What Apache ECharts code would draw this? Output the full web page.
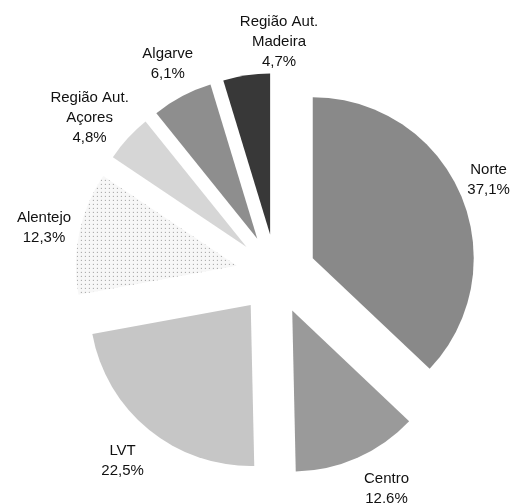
<!DOCTYPE html>
<html>
<head>
<meta charset="utf-8">
<script src="https://cdn.jsdelivr.net/npm/echarts@6/dist/echarts.min.js"></script>
<style>
  html, body { margin: 0; padding: 0; background: #fff; }
  #chart { width: 519px; height: 503px; }
</style>
</head>
<body>
<div id="chart"></div>
<script>
// regiões e percentagens (no sentido dos ponteiros, a partir do topo)
const regions = ['Norte', 'Centro', 'LVT', 'Alentejo', 'Região Aut.\nAçores', 'Algarve', 'Região Aut.\nMadeira']
const shares = [37.1, 12.6, 22.5, 12.3, 4.8, 6.1, 4.7]
const sliceColors = ['#898989', '#9a9a9a', '#c6c6c6', '#f7f7f7', '#d6d6d6', '#8e8e8e', '#383838']

const chart = echarts.init(document.getElementById('chart'), null, { renderer: 'canvas' })

const fmt = v => v.toFixed(1).replace('.', ',') + '%'

const sliceData = regions.map((name, i) => {
  const item = {
    name: name,
    value: shares[i],
    selected: true,
    itemStyle: { color: sliceColors[i] }
  }
  // Alentejo: pontilhado esparso
  if (name === 'Alentejo') {
    item.itemStyle.decal = {
      symbol: 'rect',
      symbolSize: 1,
      dashArrayX: [1, 3],
      dashArrayY: [1, 3],
      color: '#9a9a9a'
    }
  }
  return item
})

// pequenos acertos de posição dos rótulos
const labelOffsets = {
  'Norte': [-5, -2],
  'Centro': [15, -5],
  'LVT': [-2, 0],
  'Alentejo': [2, 0],
  'Região Aut.\nAçores': [-10, 3],
  'Algarve': [4, -2],
  'Região Aut.\nMadeira': [39, 1]
}

const labelData = regions.map((name, i) => {
  const item = { name: name, value: shares[i] }
  if (labelOffsets[name]) {
    item.label = { offset: labelOffsets[name] }
  }
  return item
})

chart.setOption({
  backgroundColor: '#ffffff',
  aria: { enabled: false },
  series: [
    {
      type: 'pie',
      center: [276, 274],
      radius: [0, 161],
      startAngle: 90,
      clockwise: true,
      selectedMode: 'multiple',
      selectedOffset: 40,
      animation: false,
      silent: true,
      label: { show: false },
      labelLine: { show: false },
      data: sliceData
    },
    {
      // série auxiliar só para colocar os rótulos
      type: 'pie',
      center: [275, 276],
      radius: [200, 270],
      startAngle: 90,
      clockwise: true,
      animation: false,
      silent: true,
      itemStyle: { color: 'rgba(0,0,0,0)' },
      labelLine: { show: false },
      label: {
        show: true,
        position: 'inside',
        color: '#111',
        fontFamily: 'Liberation Sans, Arial, sans-serif',
        fontSize: 15,
        lineHeight: 20,
        align: 'center',
        formatter: p => p.name + '\n' + fmt(p.value)
      },
      data: labelData
    }
  ]
})
</script>
</body>
</html>
